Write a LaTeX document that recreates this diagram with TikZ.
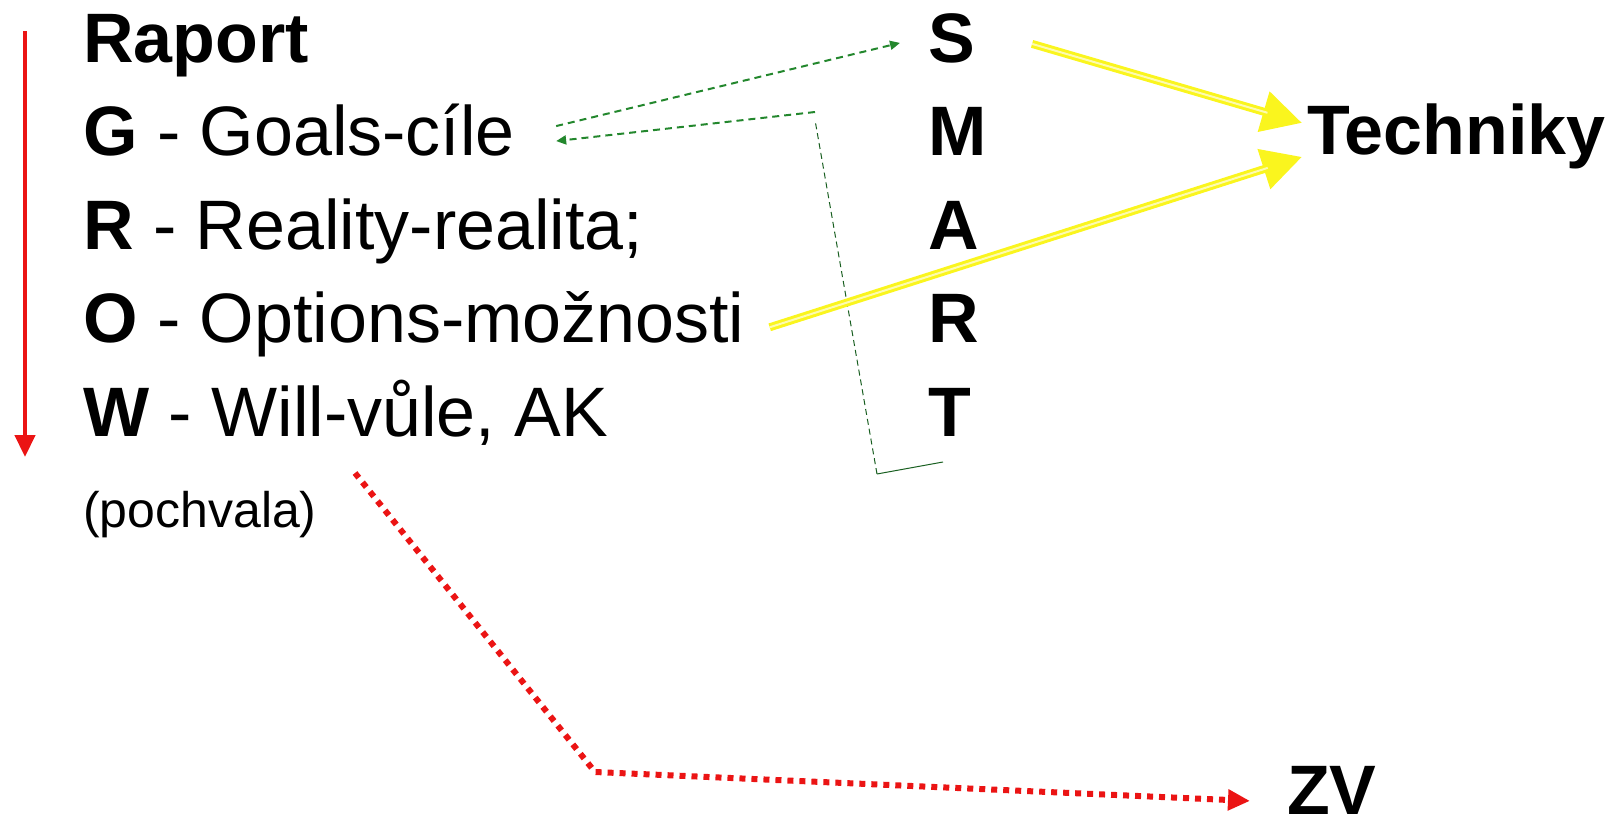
\documentclass[tikz,border=0pt]{standalone}
\usepackage{fontspec}
\setmainfont{Liberation Sans}
\usetikzlibrary{arrows.meta,calc}
\definecolor{hintgreen}{RGB}{35,135,45}
\definecolor{flowred}{RGB}{235,20,20}
\definecolor{flowyellow}{RGB}{250,245,30}

\begin{document}
\begin{tikzpicture}[
    x=1pt, y=-1pt,
    every node/.style={inner sep=0pt, anchor=base west, font=\fontsize{70}{82}\selectfont},
    key/.style={font=\fontsize{70}{82}\selectfont\bfseries},
    note/.style={font=\fontsize{50}{60}\selectfont},
    hint/.style={draw=hintgreen, line width=2pt, dash pattern=on 7pt off 5pt},
    thinhint/.style={draw=hintgreen!70!black, line width=1pt, dash pattern=on 6pt off 4pt},
    flow/.style={draw=flowyellow, line width=8pt, -{Triangle[length=40pt,width=40pt]}},
    core/.style={draw=flowyellow!35, line width=2pt, shorten >=36pt},
    order/.style={draw=flowred, line width=4.5pt, -{Triangle[length=22pt,width=20pt]}},
    later/.style={draw=flowred, line width=6pt, dash pattern=on 6pt off 6pt, -{Triangle[length=22pt,width=20pt]}}
]
  \useasboundingbox (0,0) rectangle (1618,827);

  \node[key] (raport) at (83,62) {Raport};
  \node
    foreach \k/\txt [count=\i] in {G/Goals-cíle, R/{Reality-realita;}, O/Options-možnosti, W/{Will-vůle, AK}}
      (row\k) at (83, 62+93.5*\i) {\textbf{\k} - \txt};
  \node[note] (pochvala) at (83,527) {(pochvala)};

  \node
    foreach \c [count=\i from 0] in {S,M,A,R,T}
      [key] (smart\c) at (928, 62+93.5*\i) {\c};

  \node[key] (techniky) at (1307,154) {Techniky};
  \node[key] (zv) at (1287,814) {ZV};

  % arrows
  \coordinate (start) at (25,31);
  \coordinate (end) at (25,457);
  \draw[order] (start) -- (end);

  \coordinate (brA) at (943,462);
  \coordinate (brB) at (877,474);
  \coordinate (brC) at (815,120);
  \draw[hint, -{Triangle[length=10pt,width=9pt]}] ($(rowG.east)+(41,-4)$) -- ($(smartS.west)+(-28,5)$);
  \draw[hintgreen!70!black, line width=1pt] (brA) -- (brB);
  \draw[thinhint] (brB) -- (brC);
  \draw[hint, -{Triangle[length=10pt,width=9pt]}] (brC |- 0,112) -- ($(rowG.east)+(41,11)$);

  \coordinate (sEnd) at ($(smartS.east)+(57,6)$);
  \coordinate (oEnd) at ($(rowO.east)+(25,3)$);
  \draw[flow] (sEnd) -- ($(techniky.west)+(-5,-13)$);
  \draw[core] (sEnd) -- ($(techniky.west)+(-5,-13)$);
  \draw[flow] (oEnd) -- ($(techniky.west)+(-5,21)$);
  \draw[core] (oEnd) -- ($(techniky.west)+(-5,21)$);

  \coordinate (wEnd) at (355,473);
  \coordinate (bend) at (595,772);
  \draw[later] (wEnd) -- (bend) -- ($(zv.west)+(-37,11)$);

\end{tikzpicture}
\end{document}
